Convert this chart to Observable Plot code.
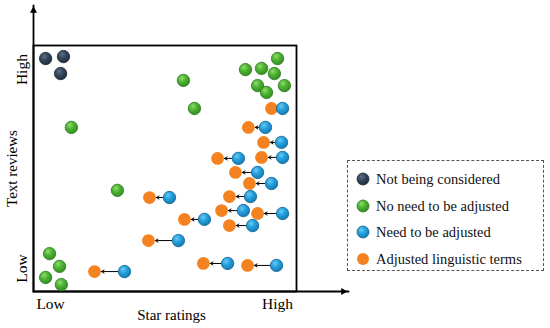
<!DOCTYPE html>
<html>
<head>
<meta charset="utf-8">
<script src="https://cdn.jsdelivr.net/npm/d3@7"></script>
<script src="https://cdn.jsdelivr.net/npm/@observablehq/plot@0.6"></script>
<style>
  html, body { margin: 0; padding: 0; background: #fff; }
  #wrap { position: relative; width: 550px; height: 328px; overflow: hidden; font-family: "Liberation Serif", "Times New Roman", serif; }
  #legend { position: absolute; left: 347px; top: 160px; width: 195px; height: 109px; border: 1px dashed #555; box-sizing: content-box; }
  .item { position: absolute; left: 8px; height: 20px; display: flex; align-items: center; font-size: 14.5px; color: #111; white-space: nowrap; }
  .item svg { margin-right: 6px; }
</style>
</head>
<body>
<div id="wrap"><div id="legend"></div></div>
<script>
// ---- data (0–100 scale on both axes) ----
const notConsideredX = [4.6, 11.4, 10.3];
const notConsideredY = [94.7, 95.5, 88.6];

const noAdjustX = [57.0, 61.2, 14.4, 92.8, 80.6, 86.7, 91.6, 85.2, 95.4, 88.6, 31.9, 6.1, 9.9, 4.6, 10.6];
const noAdjustY = [85.8, 74.4, 66.7, 94.7, 90.2, 90.7, 88.6, 83.7, 83.7, 80.9, 41.1, 15.4, 10.2, 5.7, 2.8];

// pairs: original (need to be adjusted) -> adjusted linguistic term
const needAdjustX = [94.7, 88.2, 94.3, 77.9, 94.7, 85.2, 90.5, 82.5, 51.7, 79.8, 94.7, 65.0, 83.3, 55.1, 34.6, 73.8, 92.4];
const adjustedX   = [90.5, 81.7, 87.5, 70.0, 86.7, 76.8, 82.1, 74.5, 44.1, 71.5, 85.2, 57.4, 74.5, 43.7, 23.2, 64.6, 81.4];
const pairY       = [74.4, 66.7, 60.6, 54.1, 54.5, 48.4, 43.9, 38.6, 38.2, 32.9, 31.7, 29.3, 26.8, 20.7, 8.1, 11.4, 10.6];

const xTickValues = [6.5, 92.8];
const xTickLabels = ["Low", "High"];
const yTickValues = [9.3, 90.2];
const yTickLabels = ["Low", "High"];
const xTitle = "Star ratings";
const yTitle = "Text reviews";
const axisEndX = 119.8;
const axisEndY = 116.3;

const legendLabels = ["Not being considered", "No need to be adjusted", "Need to be adjusted", "Adjusted linguistic terms"];
const legendFills = ["url(#gDark)", "url(#gGreen)", "url(#gBlue)", "#f58220"];
const legendStrokes = ["#1b2533", "#2a7a1c", "#10608f", "none"];

// ---- build tables ----
const dark = notConsideredX.map((x, i) => ({x, y: notConsideredY[i]}));
const green = noAdjustX.map((x, i) => ({x, y: noAdjustY[i]}));
const pairs = pairY.map((y, i) => ({bx: needAdjustX[i], ox: adjustedX[i], y}));
const xTicks = xTickValues.map((v, i) => ({v, label: xTickLabels[i]}));
const yTicks = yTickValues.map((v, i) => ({v, label: yTickLabels[i]}));

const R = 6.4;
const chart = Plot.plot({
  width: 550,
  height: 328,
  marginLeft: 33,
  marginRight: 254,
  marginTop: 45,
  marginBottom: 37,
  x: {domain: [0, 100], axis: null},
  y: {domain: [0, 100], axis: null},
  style: {fontFamily: "'Liberation Serif', 'Times New Roman', serif", fontSize: "14px", background: "white", overflow: "visible"},
  marks: [
    Plot.frame({stroke: "black", strokeWidth: 1.8}),
    Plot.line([[0, 0], [0, axisEndY]], {x: d => d[0], y: d => d[1], stroke: "black", strokeWidth: 1.8}),
    Plot.line([[0, 0], [axisEndX, 0]], {x: d => d[0], y: d => d[1], stroke: "black", strokeWidth: 1.8}),
    Plot.dot([[0, axisEndY]], {x: d => d[0], y: d => d[1], symbol: "triangle2", r: 3.4, fill: "black", dy: 5.3}),
    Plot.dot([[axisEndX, 0]], {x: d => d[0], y: d => d[1], symbol: "triangle2", r: 3.4, fill: "black", rotate: 90, dx: -5.3}),
    Plot.text(xTicks, {x: "v", text: "label", frameAnchor: "bottom", textAnchor: "middle", dy: 17, fontSize: 15.5}),
    Plot.text(yTicks, {y: "v", text: "label", frameAnchor: "left", textAnchor: "middle", dx: -11, rotate: -90, fontSize: 15.5}),
    Plot.text([xTitle], {x: 52.5, text: d => d, frameAnchor: "bottom", textAnchor: "middle", dy: 28, fontSize: 15}),
    Plot.text([yTitle], {y: 50, text: d => d, frameAnchor: "left", textAnchor: "middle", dx: -21, rotate: -90, fontSize: 15}),
    Plot.arrow(pairs.filter(d => d.bx - d.ox > 6), {x1: "bx", y1: "y", x2: "ox", y2: "y", insetStart: R, insetEnd: R + 0.5, headLength: 4.5, stroke: "black", strokeWidth: 1}),
    Plot.dot(pairs, {x: "ox", y: "y", r: R, fill: "#f58220", stroke: "none"}),
    Plot.dot(pairs, {x: "bx", y: "y", r: R - 0.2, fill: "url(#gBlue)", stroke: "#10608f", strokeWidth: 0.8}),
    Plot.dot(green, {x: "x", y: "y", r: R - 0.2, fill: "url(#gGreen)", stroke: "#2a7a1c", strokeWidth: 0.8}),
    Plot.dot(dark, {x: "x", y: "y", r: R - 0.2, fill: "url(#gDark)", stroke: "#1b2533", strokeWidth: 0.8})
  ]
});

const gradDefs = `
<radialGradient id="gBlue" cx="38%" cy="32%" r="72%">
  <stop offset="0" stop-color="#6cc8f2"/><stop offset="0.45" stop-color="#22a0dc"/><stop offset="1" stop-color="#1577b0"/>
</radialGradient>
<radialGradient id="gGreen" cx="38%" cy="32%" r="72%">
  <stop offset="0" stop-color="#8fdc6a"/><stop offset="0.45" stop-color="#4cb332"/><stop offset="1" stop-color="#338a22"/>
</radialGradient>
<radialGradient id="gDark" cx="38%" cy="32%" r="72%">
  <stop offset="0" stop-color="#5d7088"/><stop offset="0.45" stop-color="#34465c"/><stop offset="1" stop-color="#1f2b3a"/>
</radialGradient>`;
const defs = document.createElementNS("http://www.w3.org/2000/svg", "defs");
defs.innerHTML = gradDefs;
chart.insertBefore(defs, chart.firstChild);
chart.style.position = "absolute";
chart.style.left = "0";
chart.style.top = "0";
const wrap = document.getElementById("wrap");
wrap.insertBefore(chart, wrap.firstChild);

// legend
const legend = document.getElementById("legend");
const rowTops = [8, 35, 61, 88];
legendLabels.forEach((lab, i) => {
  const div = document.createElement("div");
  div.className = "item";
  div.style.top = rowTops[i] + "px";
  div.innerHTML = `<svg width="14" height="14" viewBox="-7 -7 14 14"><defs>${gradDefs}</defs><circle r="6" fill="${legendFills[i]}" stroke="${legendStrokes[i]}" stroke-width="0.8"/></svg><span>${lab}</span>`;
  legend.appendChild(div);
});
</script>
</body>
</html>
